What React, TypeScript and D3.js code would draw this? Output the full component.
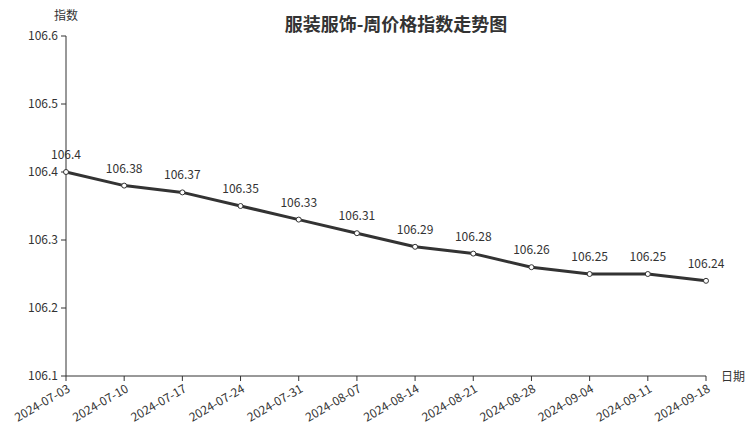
import React from "react";
import * as d3 from "d3";

const dates = ["2024-07-03","2024-07-10","2024-07-17","2024-07-24","2024-07-31","2024-08-07","2024-08-14","2024-08-21","2024-08-28","2024-09-04","2024-09-11","2024-09-18"];
const values = [106.4,106.38,106.37,106.35,106.33,106.31,106.29,106.28,106.26,106.25,106.25,106.24];
const yTicks = [106.1,106.2,106.3,106.4,106.5,106.6];

const W = 752, H = 427;
const left = 66, right = 706, top = 36, bottom = 376;
const font = "'Noto Sans CJK SC', 'Noto Sans', sans-serif";
const color = "#333";

export default function App() {
  const x = d3.scalePoint<string>().domain(dates).range([left, right]);
  const y = d3.scaleLinear().domain([106.1, 106.6]).range([bottom, top]);
  const line = d3.line<number>().x((_, i) => x(dates[i])!).y(d => y(d));
  return (
    <svg width={W} height={H} style={{ position: "absolute", left: 0, top: 0 }} fontFamily={font}>
      <text x={396} y={31} textAnchor="middle" fontSize={18} fontWeight="bold" fill={color}>服装服饰-周价格指数走势图</text>
      <text x={66} y={20} textAnchor="middle" fontSize={12} fill={color}>指数</text>
      <text x={721} y={381} textAnchor="start" fontSize={12} fill={color}>日期</text>
      <line x1={left} x2={left} y1={top} y2={bottom} stroke={color} strokeWidth={1} />
      {yTicks.map(t => (
        <g key={t}>
          <line x1={left - 5} x2={left} y1={y(t)} y2={y(t)} stroke={color} />
          <text x={left - 8} y={y(t)} dy="0.35em" textAnchor="end" fontSize={12} fill={color}>{t}</text>
        </g>
      ))}
      <line x1={left} x2={right} y1={bottom} y2={bottom} stroke={color} strokeWidth={1} />
      {dates.map(d => (
        <g key={d}>
          <line x1={x(d)} x2={x(d)} y1={bottom} y2={bottom + 5} stroke={color} />
          <text transform={`translate(${x(d)! + 2},${bottom + 10}) rotate(-30)`} textAnchor="end" dy="0.5em" fontSize={12} fill={color}>{d}</text>
        </g>
      ))}
      <path d={line(values)!} fill="none" stroke={color} strokeWidth={3} strokeLinejoin="round" />
      {values.map((v, i) => (
        <g key={i}>
          <circle cx={x(dates[i])} cy={y(v)} r={2.5} fill="#fff" stroke={color} strokeWidth={1} />
          <text x={x(dates[i])} y={y(v) - 13} textAnchor="middle" fontSize={12} fill={color}>{String(v)}</text>
        </g>
      ))}
    </svg>
  );
}
